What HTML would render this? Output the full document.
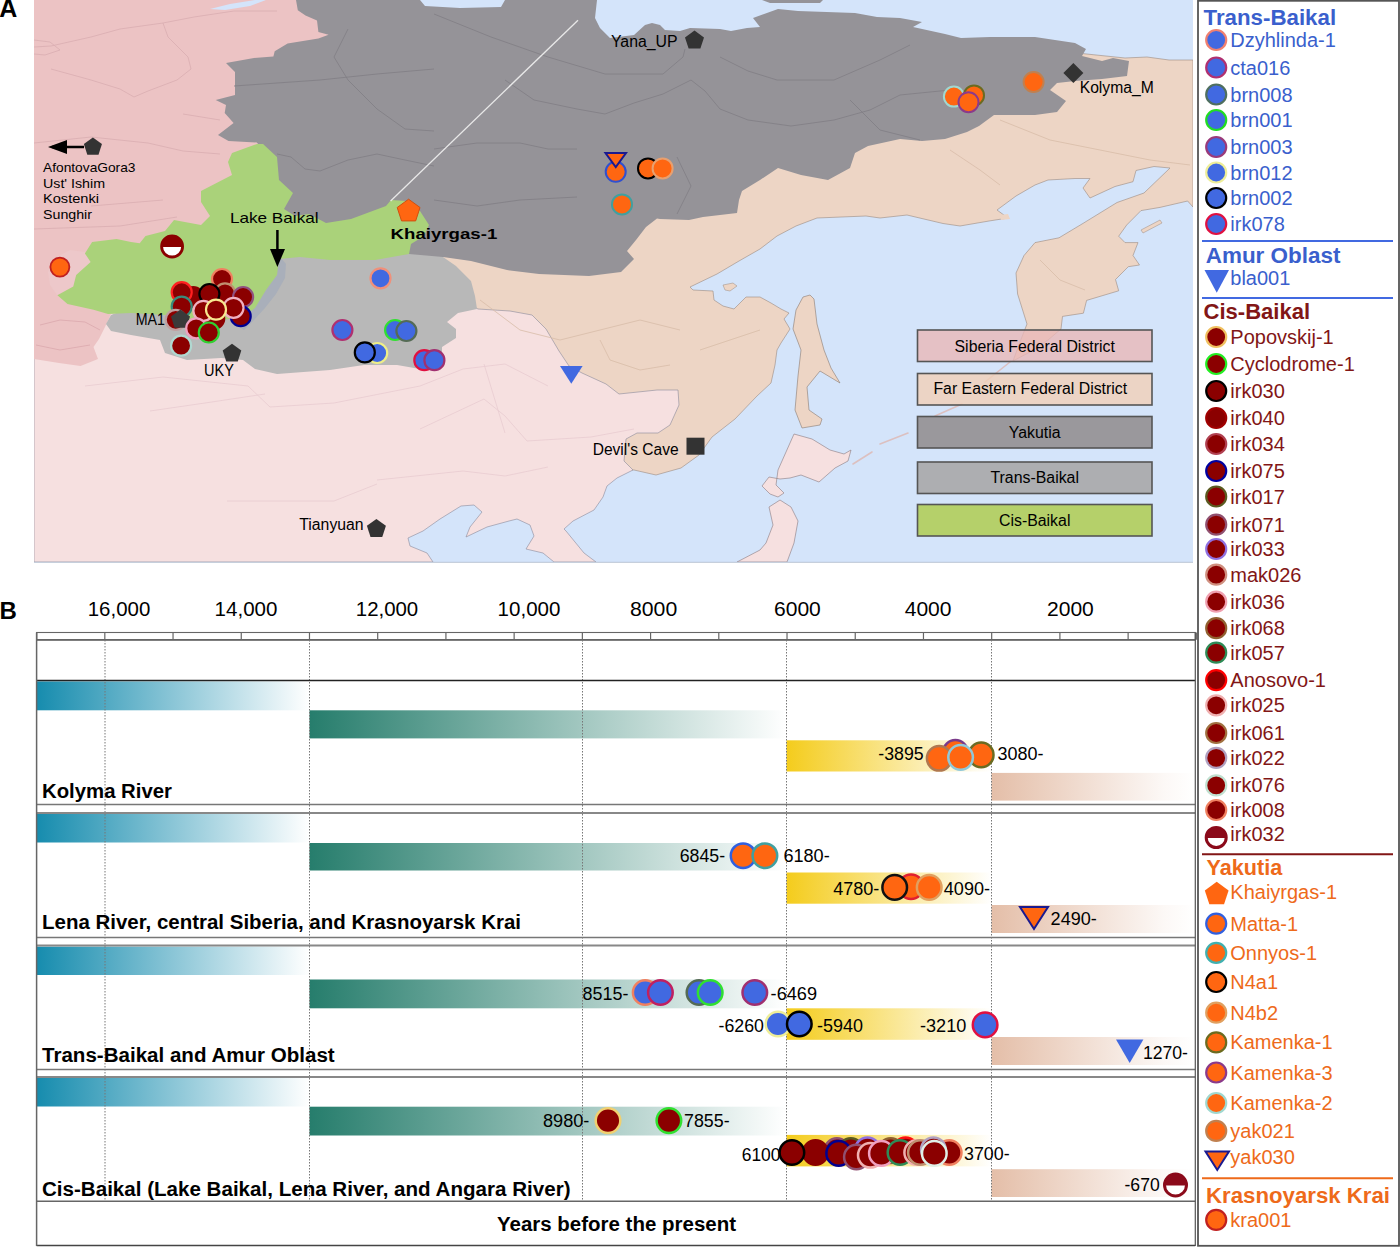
<!DOCTYPE html><html><head><meta charset="utf-8"><style>html,body{margin:0;padding:0;background:#fff;overflow:hidden}svg{display:block}text{font-family:"Liberation Sans",sans-serif}</style></head><body>
<svg width="1400" height="1247" viewBox="0 0 1400 1247">
<defs>
<linearGradient id="gB" x1="0" x2="1" y1="0" y2="0"><stop offset="0" stop-color="#168cae"/><stop offset="1" stop-color="#168cae" stop-opacity="0"/></linearGradient>
<linearGradient id="gG" x1="0" x2="1" y1="0" y2="0"><stop offset="0" stop-color="#267d6c"/><stop offset="1" stop-color="#267d6c" stop-opacity="0"/></linearGradient>
<linearGradient id="gY" x1="0" x2="1" y1="0" y2="0"><stop offset="0" stop-color="#f4cc1c"/><stop offset="1" stop-color="#f4cc1c" stop-opacity="0"/></linearGradient>
<linearGradient id="gP" x1="0" x2="1" y1="0" y2="0"><stop offset="0" stop-color="#e4bea8"/><stop offset="0.85" stop-color="#e4bea8" stop-opacity="0.1"/><stop offset="1" stop-color="#e4bea8" stop-opacity="0"/></linearGradient>
<clipPath id="mapclip"><rect x="34" y="0" width="1159" height="562"/></clipPath>
</defs>
<rect width="1400" height="1247" fill="#fff"/>
<g clip-path="url(#mapclip)">
<rect x="34" y="0" width="1159" height="562" fill="#d4e4fa"/>
<polygon points="430,240 700,150 1000,45 1125,58 1147,57 1169,60 1193,60 1193,207 1187.6,201 1160,207.4 1141,210.6 1126.7,225 1118.7,236.2 1125,242.6 1138,242.6 1133,255.5 1139.5,265 1128.3,266.7 1115.5,279.5 1118.7,290.8 1086.6,300.4 1083.4,313.2 1062.5,316.4 1061,329 1048,340 1030,352 1013,361 1020,342 1027,324 1017.6,294 1016,273 1024,255.5 1035,242.6 1059,237.8 1083,223.4 1117,202.5 1144,193 1170,168 1154,166.5 1136,170.5 1133,181.7 1115,186.5 1090,198 1083,188 1090,178.5 1075,178.5 1048,180 1035,185 1016,196 997,210 1008,218 989,221 960,226 943,223.5 907,215 880,218 866,216 817,218 796,226 777,236 760,249 739,261 717,274 690,287 693,290 713,291 714,300 723,306 734,309 746,297 760,297 771,303 781,309 789,313 784,319 790,329 781,343 777,350 775,365 771,383 757,396 735,419 712,437 699,455 681,468 656,475 634,470 600,470 440,400" fill="#edd5c5" stroke="#9a8a80" stroke-width="0.6"/>
<polygon points="1141,230 1160,220 1162,223 1143,233" fill="#edd5c5" stroke="#9a8a80" stroke-width="0.5"/>
<polygon points="1000,215 1008,214 1010,219 1001,220" fill="#edd5c5" />
<polygon points="723,285 733,283 737,286 730,291 725,290" fill="#edd5c5" stroke="#9a8a80" stroke-width="0.5"/>
<polygon points="803,297 810,295 814,299 817,324 824,350 831,368 840,383 820,371 807,387 809,410 822,419 820,425 802,428 795,410 798,376 801,350 793,329 796,310" fill="#edd5c5" stroke="#8a7a70" stroke-width="0.6"/>
<polygon points="34,290 442,290 478,309 510,311 532,315 546,329 559,351 569,366 582,373 606,384 619,394 657,390 678,390 679,405 670,425 658,433 637,433 626,439 624,461 633,470 617,478 607,486 603,497 594,510 573,521 564,529 566,531 584,553 596,562 554,562 543,553 526,549 534,536 530,525 517,519 509,521 487,527 466,537 470,527 482,512 474,505 461,506 440,519 423,531 408,538 410,546 427,553 433,562 34,562" fill="#f6e0e0" stroke="#8a8a9a" stroke-width="0.6"/>
<polygon points="794,434 812,439 830,450 844,454 851,450 848,461 835,468 819,482 801,475 790,478 780,479 769,477 762,486 770,494 778,497 784,493 776,485 778,470 786,452" fill="#f6e0e0" stroke="#8a7a80" stroke-width="0.6"/>
<polygon points="780,500 791,507 798,521 794,543 787,562 737,562 760,550 766,543 773,525 769,507" fill="#f6e0e0" stroke="#8a7a80" stroke-width="0.6"/>
<path d="M853,464 L872,452 M880,444 L908,433 M935,416 L962,404 M985,382 L1010,362" stroke="#dcc0c0" stroke-width="1.6" fill="none" stroke-linecap="round"/>
<polygon points="34,0 330,0 330,220 200,300 111,314 105,327 99,339 93.5,347 98,359 80.5,366 59,363 34,359" fill="#ecc3c4" />
<polygon points="85,252 92,262 76,275 73,287 57,295 50,285 48,272 55,258 70,250" fill="#edc8ca" />
<polygon points="210,9 230,4 255,0 266,0 250,6 225,10" fill="#d4e4fa" />
<polygon points="296,0 420,0 425,6 460,8 501,7 505,0 597,0 595,18 600,28 610,38 634,35 645,25 652,23 660,25 665,30 680,31 690,28 720,29 731,31 747,28 760,27 753,18 778,9 798,11 855,13 877,17 900,18 922,22 913,27 945,34 961,38 990,37 1035,37 1075,43 1086,49 1082,56 1102,61 1113,58 1129,61 1127,76 1102,79 1075,81 1057,83 1050,90 1066,101 1057,112 1035,115 994,115 979,126 967,132 945,139 922,141 900,139 868,146 855,153 850,168 828,180 801,175 778,168 760,180 742,191 739,200 737,213 703,217 689,220 660,219 657,218.6 646,227 636,240 627,251 634,259 621,272 589,276 539,274 507,270 471,261 443,257 420,262 330,262 280,250 263,144 259,145 256.8,142.5 228.5,141 218,135 233.6,123 224.7,113 226,105 215.7,100 235,95 235,72 226,63 254,58 273.4,56.5 274.7,51.3 287.6,43.6 318.4,38.5 328.6,34.7 318.4,32 317,20.5 305.5,15.4 297.8,10.3" fill="#959398" />
<polygon points="762,0 823,0 820,3 770,3" fill="#959398" />
<polygon points="106,324 111,315 150,300 260,250 330,255 409,254 443,257 456,266 471,281 475,296 477,309 458,313 447,322 456,329 456,338 442,347 442,356 436,365 420,369 397,365 364,365 330,370 277,374 255,369 243,360 221,358 187,360 165,353 160,340 131,335 111,331" fill="#b8b8b8" />
<polygon points="281,258 286,264 285,278 276,294 265,308 254,320 244,330 238,326 246,314 256,300 267,286 275,270" fill="#a9afba" />
<polygon points="257,144 263,144 277,157 279,180 293,193 284,209 295,216 309,214 326,223 351,219 386,206 391,200 407,201 420,211 429,225 424,236 411,244 409,254 375,260 330,260 300,257 279,259 277,275 266,290 255,308 243,317 221,320 187,320 165,315 131,313 108,314 93.5,309.7 67.5,304 57.4,295.3 73.3,286.6 76.2,275 90.6,262 84.9,253.4 92.1,241.9 116.6,239 131,241.9 139.7,243.3 145.5,236 165,231 174,220 201,225 210,216 201,202 201,191 232,175 228,162 232,153" fill="#aad27a" />
<polyline points="34,47 51,46 91,37 120,29 163,23 194,17 234,11 277,11" fill="none" stroke="#d9adb1" stroke-width="0.8" stroke-linejoin="round"/>
<polyline points="163,23 168,37 188,57 191,69 177,80 148,91 134,97 120,89 91,80 51,69" fill="none" stroke="#d9adb1" stroke-width="0.8" stroke-linejoin="round"/>
<polyline points="34,143 91,137 148,143 183,151 220,154" fill="none" stroke="#d9adb1" stroke-width="0.8" stroke-linejoin="round"/>
<polyline points="34,229 120,226 177,217" fill="none" stroke="#d9adb1" stroke-width="0.8" stroke-linejoin="round"/>
<polyline points="183,114 220,120" fill="none" stroke="#d9adb1" stroke-width="0.8" stroke-linejoin="round"/>
<polyline points="91,206 163,200" fill="none" stroke="#d9adb1" stroke-width="0.8" stroke-linejoin="round"/>
<polyline points="34,40 50,42 60,50 45,55 34,54" fill="none" stroke="#d9adb1" stroke-width="0.8" stroke-linejoin="round"/>
<polyline points="40,325 60,320 85,322 100,330" fill="none" stroke="#dba8ad" stroke-width="0.8" stroke-linejoin="round"/>
<polyline points="36,345 60,350 90,345" fill="none" stroke="#dba8ad" stroke-width="0.8" stroke-linejoin="round"/>
<polyline points="277,154 291,157 305,169 320,171 348,160 377,154 405,160 434,166" fill="none" stroke="#807e84" stroke-width="0.8" stroke-linejoin="round"/>
<polyline points="234,86 320,80 377,74 434,69" fill="none" stroke="#807e84" stroke-width="0.8" stroke-linejoin="round"/>
<polyline points="348,29 334,57 348,80 377,109 405,129 434,131" fill="none" stroke="#807e84" stroke-width="0.8" stroke-linejoin="round"/>
<polyline points="434,14 491,37 548,57 605,74 663,74 683,57 685,49" fill="none" stroke="#807e84" stroke-width="0.8" stroke-linejoin="round"/>
<polyline points="505,80 534,100 577,109 605,114 634,103 663,94 691,80 705,91 720,109 748,120 791,126 834,120 870,110 900,95 950,90" fill="none" stroke="#807e84" stroke-width="0.8" stroke-linejoin="round"/>
<polyline points="434,149 477,143 520,143 548,149 577,149" fill="none" stroke="#807e84" stroke-width="0.8" stroke-linejoin="round"/>
<polyline points="434,200 477,206 520,200 577,197" fill="none" stroke="#807e84" stroke-width="0.8" stroke-linejoin="round"/>
<polyline points="720,57 748,71 777,80 834,80 880,60 910,45" fill="none" stroke="#807e84" stroke-width="0.8" stroke-linejoin="round"/>
<polyline points="677,157 691,186 677,214" fill="none" stroke="#807e84" stroke-width="0.8" stroke-linejoin="round"/>
<polyline points="850,100 880,130 920,140" fill="none" stroke="#807e84" stroke-width="0.8" stroke-linejoin="round"/>
<polyline points="480,300 520,330 560,340 600,330 640,320 680,330" fill="none" stroke="#d8bca8" stroke-width="0.8" stroke-linejoin="round"/>
<polyline points="600,340 610,360 640,370 670,365" fill="none" stroke="#d8bca8" stroke-width="0.8" stroke-linejoin="round"/>
<polyline points="700,350 730,340 760,330" fill="none" stroke="#d8bca8" stroke-width="0.8" stroke-linejoin="round"/>
<polyline points="1000,120 1050,140 1100,150 1150,160 1190,165" fill="none" stroke="#d8bca8" stroke-width="0.8" stroke-linejoin="round"/>
<polyline points="950,150 980,170 1000,185" fill="none" stroke="#d8bca8" stroke-width="0.8" stroke-linejoin="round"/>
<polyline points="1085,290 1060,280 1040,260" fill="none" stroke="#d8bca8" stroke-width="0.8" stroke-linejoin="round"/>
<polyline points="85,386 163,377 248,386 270,407 334,403 420,386 463,369 505,364 548,386" fill="none" stroke="#e8ccd0" stroke-width="0.8" stroke-linejoin="round"/>
<polyline points="150,411 205,403 265,394" fill="none" stroke="#e8ccd0" stroke-width="0.8" stroke-linejoin="round"/>
<polyline points="420,429 484,399 505,416 527,441 591,437 634,429" fill="none" stroke="#e8ccd0" stroke-width="0.8" stroke-linejoin="round"/>
<polyline points="377,480 463,471 505,476 548,467" fill="none" stroke="#e8ccd0" stroke-width="0.8" stroke-linejoin="round"/>
<polyline points="227,501 334,501 377,484" fill="none" stroke="#e8ccd0" stroke-width="0.8" stroke-linejoin="round"/>
<polyline points="484,364 505,433" fill="none" stroke="#e8ccd0" stroke-width="0.8" stroke-linejoin="round"/>
<line x1="390.6" y1="201" x2="578" y2="20.2" stroke="#e8e8e8" stroke-width="1.3"/>
</g>
<line x1="34" y1="562.3" x2="1193" y2="562.3" stroke="#b8c4d4" stroke-width="1"/>
<rect x="917.5" y="330" width="234.5" height="31.5" fill="#e9b8b8" fill-opacity="0.8" stroke="#555" stroke-width="1.6"/>
<text x="954.55" y="351.8" font-size="16" fill="#000" textLength="160.3" lengthAdjust="spacingAndGlyphs" >Siberia Federal District</text>
<rect x="917.5" y="373.5" width="234.5" height="31.5" fill="#f1cfb8" fill-opacity="0.8" stroke="#555" stroke-width="1.6"/>
<text x="933.4" y="393.9" font-size="16" fill="#000" textLength="193.7" lengthAdjust="spacingAndGlyphs" >Far Eastern Federal District</text>
<rect x="917.5" y="416.5" width="234.5" height="31.5" fill="#8b8485" fill-opacity="0.8" stroke="#555" stroke-width="1.6"/>
<text x="1008.85" y="437.7" font-size="16" fill="#000" textLength="51.7" lengthAdjust="spacingAndGlyphs" >Yakutia</text>
<rect x="917.5" y="462" width="234.5" height="31.5" fill="#a3a09f" fill-opacity="0.8" stroke="#555" stroke-width="1.6"/>
<text x="990.4" y="483.4" font-size="16" fill="#000" textLength="88.6" lengthAdjust="spacingAndGlyphs" >Trans-Baikal</text>
<rect x="917.5" y="504.5" width="234.5" height="31.5" fill="#adcb46" fill-opacity="0.8" stroke="#555" stroke-width="1.6"/>
<text x="999" y="525.8" font-size="16" fill="#000" textLength="71.4" lengthAdjust="spacingAndGlyphs" >Cis-Baikal</text>
<polygon points="92.9,137.45 101.935,144.014 98.484,154.636 87.316,154.636 83.865,144.014" fill="#333" />
<line x1="52" y1="147" x2="84" y2="147" stroke="#000" stroke-width="2.5"/>
<polygon points="48,147 67,140 67,154" fill="#000" />
<polygon points="694.5,30.5 704.011,37.4098 700.378,48.5902 688.622,48.5902 684.989,37.4098" fill="#333" />
<polygon points="1073.4,63 1083.4,73 1073.4,83 1063.4,73" fill="#333" />
<rect x="686.5" y="437.7" width="18" height="17" fill="#333"/>
<polygon points="376.4,518.9 385.911,525.81 382.278,536.99 370.522,536.99 366.889,525.81" fill="#333" />
<text x="43" y="171.8" font-size="13" fill="#000" textLength="92.5" lengthAdjust="spacingAndGlyphs" >AfontovaGora3</text>
<text x="43" y="187.5" font-size="13" fill="#000" textLength="62" lengthAdjust="spacingAndGlyphs" >Ust' Ishim</text>
<text x="43" y="203.2" font-size="13" fill="#000" textLength="56" lengthAdjust="spacingAndGlyphs" >Kostenki</text>
<text x="43" y="219" font-size="13" fill="#000" textLength="49" lengthAdjust="spacingAndGlyphs" >Sunghir</text>
<text x="229.9" y="223.4" font-size="15" fill="#000" textLength="88.7" lengthAdjust="spacingAndGlyphs" >Lake Baikal</text>
<text x="390.6" y="239.2" font-size="15" fill="#000" font-weight="bold" textLength="106.7" lengthAdjust="spacingAndGlyphs" >Khaiyrgas-1</text>
<text x="611" y="47" font-size="16" fill="#000" textLength="66.5" lengthAdjust="spacingAndGlyphs" >Yana_UP</text>
<text x="1079.7" y="93.2" font-size="16" fill="#000" textLength="74" lengthAdjust="spacingAndGlyphs" >Kolyma_M</text>
<text x="592.7" y="454.6" font-size="16" fill="#000" textLength="86" lengthAdjust="spacingAndGlyphs" >Devil's Cave</text>
<text x="299.3" y="530" font-size="16" fill="#000" textLength="64.3" lengthAdjust="spacingAndGlyphs" >Tianyuan</text>
<line x1="277.4" y1="230" x2="277.4" y2="255" stroke="#000" stroke-width="2.5"/>
<polygon points="270,248.9 285,248.9 277.4,267" fill="#000" />
<circle cx="380.5" cy="278.3" r="10" fill="#4169e1" stroke="#f0907a" stroke-width="2.2" />
<circle cx="342.4" cy="330" r="10" fill="#4169e1" stroke="#b03070" stroke-width="2.2" />
<circle cx="395.1" cy="330" r="10" fill="#4169e1" stroke="#30e030" stroke-width="2.2" />
<circle cx="406.4" cy="331" r="10" fill="#4169e1" stroke="#556b55" stroke-width="2.2" />
<circle cx="377.2" cy="353" r="10" fill="#4169e1" stroke="#eeee88" stroke-width="2.2" />
<circle cx="364.8" cy="352.4" r="10" fill="#4169e1" stroke="#000" stroke-width="2.2" />
<circle cx="424.3" cy="360.2" r="10" fill="#4169e1" stroke="#e01040" stroke-width="2.2" />
<circle cx="434.4" cy="360.2" r="10" fill="#4169e1" stroke="#a03070" stroke-width="2.2" />
<polygon points="560,366 582.6,366 571.3,383.8" fill="#4169e1" />
<circle cx="615.7" cy="171.8" r="10" fill="#ff6611" stroke="#3050d0" stroke-width="2" />
<polygon points="605.5,153 626,153 615.75,167" fill="#ff6611" stroke="#1a1a90" stroke-width="2" stroke-linejoin="miter"/>
<circle cx="622" cy="204.4" r="10" fill="#ff6611" stroke="#40a0a0" stroke-width="2" />
<circle cx="648" cy="168.4" r="10" fill="#ff6611" stroke="#000" stroke-width="2" />
<circle cx="662.6" cy="168.4" r="10" fill="#ff6611" stroke="#e8a070" stroke-width="2" />
<circle cx="953.9" cy="96.6" r="10" fill="#ff6611" stroke="#a0d8d0" stroke-width="2" />
<circle cx="974" cy="95.4" r="10" fill="#ff6611" stroke="#6b6b20" stroke-width="2" />
<circle cx="968.5" cy="102.2" r="10" fill="#ff6611" stroke="#8b3a8b" stroke-width="2" />
<circle cx="1033.6" cy="82" r="10" fill="#ff6611" stroke="#c08050" stroke-width="2" />
<polygon points="408.6,199.2 420.013,207.492 415.653,220.908 401.547,220.908 397.187,207.492" fill="#ff6611" stroke="#d05010" stroke-width="1"/>
<circle cx="59.9" cy="267.1" r="9.5" fill="#ff6611" stroke="#c02020" stroke-width="1.8" />
<circle cx="172.1" cy="246.5" r="10.5" fill="#fff" stroke="#8b0000" stroke-width="2.8"/>
<path d="M161.6,247.0 A10.5,10.5 0 0 1 182.6,247.0 Z" fill="#8b0000"/>
<circle cx="222" cy="279" r="10" fill="#8b0000" stroke="#f08060" stroke-width="2.2" />
<circle cx="193.2" cy="297" r="10" fill="#8b0000" stroke="#8b0000" stroke-width="2.2" />
<circle cx="181.7" cy="292.2" r="10" fill="#8b0000" stroke="#ff2020" stroke-width="2.2" />
<circle cx="225" cy="293.4" r="10" fill="#8b0000" stroke="#c09070" stroke-width="2.2" />
<circle cx="209.4" cy="294" r="10" fill="#8b0000" stroke="#000" stroke-width="2.2" />
<circle cx="243.1" cy="297" r="10" fill="#8b0000" stroke="#905080" stroke-width="2.2" />
<circle cx="181.7" cy="306.6" r="10" fill="#8b0000" stroke="#3a8a7a" stroke-width="2.2" />
<circle cx="240.7" cy="316.2" r="10" fill="#8b0000" stroke="#000090" stroke-width="2.2" />
<circle cx="214.2" cy="318.6" r="10" fill="#8b0000" stroke="#8b0000" stroke-width="2.2" />
<circle cx="233.5" cy="307.8" r="10" fill="#8b0000" stroke="#f0b0c0" stroke-width="2.2" />
<circle cx="203.4" cy="310.8" r="10" fill="#8b0000" stroke="#f0b0c0" stroke-width="2.2" />
<circle cx="216" cy="309.6" r="10" fill="#8b0000" stroke="#f8e890" stroke-width="2.2" />
<circle cx="175.7" cy="319.8" r="10" fill="#8b0000" stroke="#c0a0a0" stroke-width="2.2" />
<polygon points="180.5,309.6 190.011,316.51 186.378,327.69 174.622,327.69 170.989,316.51" fill="#3a3a3a" />
<circle cx="196.2" cy="328.3" r="10" fill="#8b0000" stroke="#f0a0c0" stroke-width="2.2" />
<circle cx="208.8" cy="332.5" r="10" fill="#8b0000" stroke="#30d030" stroke-width="2.2" />
<circle cx="181.1" cy="345.7" r="10" fill="#8b0000" stroke="#b0d8d0" stroke-width="2.2" />
<polygon points="232,343.68 241.32,350.452 237.76,361.408 226.24,361.408 222.68,350.452" fill="#333" />
<text x="135.75" y="324.75" font-size="16" fill="#000" textLength="29.25" lengthAdjust="spacingAndGlyphs" >MA1</text>
<text x="204.1" y="375.6" font-size="17" fill="#000" textLength="29.8" lengthAdjust="spacingAndGlyphs" >UKY</text>
<text x="-0.8" y="17.2" font-size="25" fill="#000" font-weight="bold" >A</text>
<text x="-0.5" y="618.5" font-size="24" fill="#000" font-weight="bold" >B</text>
<text x="87.75" y="615.7" font-size="20" fill="#000" textLength="62.5" lengthAdjust="spacingAndGlyphs" >16,000</text>
<text x="214.6" y="615.7" font-size="20" fill="#000" textLength="62.8" lengthAdjust="spacingAndGlyphs" >14,000</text>
<text x="355.8" y="615.7" font-size="20" fill="#000" textLength="62.4" lengthAdjust="spacingAndGlyphs" >12,000</text>
<text x="497.6" y="615.7" font-size="20" fill="#000" textLength="62.8" lengthAdjust="spacingAndGlyphs" >10,000</text>
<text x="630" y="615.7" font-size="20" fill="#000" textLength="47.2" lengthAdjust="spacingAndGlyphs" >8000</text>
<text x="774" y="615.7" font-size="20" fill="#000" textLength="46.8" lengthAdjust="spacingAndGlyphs" >6000</text>
<text x="904.7" y="615.7" font-size="20" fill="#000" textLength="46.8" lengthAdjust="spacingAndGlyphs" >4000</text>
<text x="1047" y="615.7" font-size="20" fill="#000" textLength="46.8" lengthAdjust="spacingAndGlyphs" >2000</text>
<rect x="36.6" y="632.5" width="1158.7" height="7.3" fill="#fff" stroke="#666" stroke-width="1.1"/>
<line x1="36.6" y1="639.8" x2="1195.2" y2="639.8" stroke="#666" stroke-width="1.8"/>
<line x1="36.60" y1="632.5" x2="36.60" y2="639.8" stroke="#666" stroke-width="1.2"/>
<line x1="104.82" y1="632.5" x2="104.82" y2="639.8" stroke="#666" stroke-width="1.2"/>
<line x1="173.04" y1="632.5" x2="173.04" y2="639.8" stroke="#666" stroke-width="1.2"/>
<line x1="241.26" y1="632.5" x2="241.26" y2="639.8" stroke="#666" stroke-width="1.2"/>
<line x1="309.48" y1="632.5" x2="309.48" y2="639.8" stroke="#666" stroke-width="1.2"/>
<line x1="377.70" y1="632.5" x2="377.70" y2="639.8" stroke="#666" stroke-width="1.2"/>
<line x1="445.92" y1="632.5" x2="445.92" y2="639.8" stroke="#666" stroke-width="1.2"/>
<line x1="514.14" y1="632.5" x2="514.14" y2="639.8" stroke="#666" stroke-width="1.2"/>
<line x1="582.36" y1="632.5" x2="582.36" y2="639.8" stroke="#666" stroke-width="1.2"/>
<line x1="650.58" y1="632.5" x2="650.58" y2="639.8" stroke="#666" stroke-width="1.2"/>
<line x1="718.80" y1="632.5" x2="718.80" y2="639.8" stroke="#666" stroke-width="1.2"/>
<line x1="787.02" y1="632.5" x2="787.02" y2="639.8" stroke="#666" stroke-width="1.2"/>
<line x1="855.24" y1="632.5" x2="855.24" y2="639.8" stroke="#666" stroke-width="1.2"/>
<line x1="923.46" y1="632.5" x2="923.46" y2="639.8" stroke="#666" stroke-width="1.2"/>
<line x1="991.68" y1="632.5" x2="991.68" y2="639.8" stroke="#666" stroke-width="1.2"/>
<line x1="1059.90" y1="632.5" x2="1059.90" y2="639.8" stroke="#666" stroke-width="1.2"/>
<line x1="1128.12" y1="632.5" x2="1128.12" y2="639.8" stroke="#666" stroke-width="1.2"/>
<line x1="1196.34" y1="632.5" x2="1196.34" y2="639.8" stroke="#666" stroke-width="1.2"/>
<rect x="36.6" y="681.4" width="272.9" height="28.90" fill="url(#gB)"/>
<rect x="309.5" y="710.3" width="477.0" height="28.10" fill="url(#gG)"/>
<rect x="786.5" y="740.3" width="205.0" height="31.20" fill="url(#gY)"/>
<rect x="991.5" y="772.9" width="203.70000000000005" height="27.70" fill="url(#gP)"/>
<rect x="36.6" y="813.6" width="272.9" height="28.90" fill="url(#gB)"/>
<rect x="309.5" y="843" width="477.0" height="27.50" fill="url(#gG)"/>
<rect x="786.5" y="872.5" width="205.0" height="31.20" fill="url(#gY)"/>
<rect x="991.5" y="905" width="203.70000000000005" height="28.00" fill="url(#gP)"/>
<rect x="36.6" y="946.6" width="272.9" height="28.40" fill="url(#gB)"/>
<rect x="309.5" y="979.5" width="477.0" height="28.80" fill="url(#gG)"/>
<rect x="786.5" y="1008.3" width="205.0" height="31.50" fill="url(#gY)"/>
<rect x="991.5" y="1037" width="203.70000000000005" height="28.00" fill="url(#gP)"/>
<rect x="36.6" y="1078" width="272.9" height="28.50" fill="url(#gB)"/>
<rect x="309.5" y="1106.7" width="477.0" height="28.80" fill="url(#gG)"/>
<rect x="786.5" y="1134.9" width="205.0" height="31.50" fill="url(#gY)"/>
<rect x="991.5" y="1169.2" width="203.70000000000005" height="27.80" fill="url(#gP)"/>
<line x1="105" y1="640" x2="105" y2="1201" stroke="#777" stroke-width="1" stroke-dasharray="1.5,1.5"/>
<line x1="309.5" y1="640" x2="309.5" y2="1201" stroke="#777" stroke-width="1" stroke-dasharray="1.5,1.5"/>
<line x1="582.5" y1="640" x2="582.5" y2="1201" stroke="#777" stroke-width="1" stroke-dasharray="1.5,1.5"/>
<line x1="786.5" y1="640" x2="786.5" y2="1201" stroke="#777" stroke-width="1" stroke-dasharray="1.5,1.5"/>
<line x1="991.5" y1="640" x2="991.5" y2="1201" stroke="#777" stroke-width="1" stroke-dasharray="1.5,1.5"/>
<line x1="36.6" y1="680.5" x2="1195.2" y2="680.5" stroke="#222" stroke-width="1.6"/>
<line x1="36.6" y1="804.6" x2="1195.2" y2="804.6" stroke="#777" stroke-width="1.5"/>
<line x1="36.6" y1="937.6" x2="1195.2" y2="937.6" stroke="#777" stroke-width="1.5"/>
<line x1="36.6" y1="1069.5" x2="1195.2" y2="1069.5" stroke="#777" stroke-width="1.5"/>
<line x1="36.6" y1="813" x2="1195.2" y2="813" stroke="#888" stroke-width="2"/>
<line x1="36.6" y1="945.6" x2="1195.2" y2="945.6" stroke="#888" stroke-width="2"/>
<line x1="36.6" y1="1077" x2="1195.2" y2="1077" stroke="#888" stroke-width="2"/>
<line x1="36.6" y1="1201.2" x2="1195.2" y2="1201.2" stroke="#666" stroke-width="1.5"/>
<line x1="36.6" y1="1245.5" x2="1195.2" y2="1245.5" stroke="#444" stroke-width="1.5"/>
<line x1="36.6" y1="632.5" x2="36.6" y2="1246" stroke="#666" stroke-width="1.5"/>
<line x1="1195.3" y1="632.5" x2="1195.3" y2="1246" stroke="#555" stroke-width="1.2"/>
<text x="42" y="798" font-size="20" fill="#000" font-weight="bold" textLength="130" lengthAdjust="spacingAndGlyphs" >Kolyma River</text>
<text x="42" y="928.6" font-size="20" fill="#000" font-weight="bold" textLength="479" lengthAdjust="spacingAndGlyphs" >Lena River, central Siberia, and Krasnoyarsk Krai</text>
<text x="42" y="1062.3" font-size="20" fill="#000" font-weight="bold" textLength="292.7" lengthAdjust="spacingAndGlyphs" >Trans-Baikal and Amur Oblast</text>
<text x="42" y="1196.3" font-size="20" fill="#000" font-weight="bold" textLength="528.5" lengthAdjust="spacingAndGlyphs" >Cis-Baikal (Lake Baikal, Lena River, and Angara River)</text>
<text x="497" y="1230.6" font-size="20" fill="#000" font-weight="bold" textLength="239" lengthAdjust="spacingAndGlyphs" >Years before the present</text>
<text x="878.3" y="760" font-size="18" fill="#000" textLength="45.4" lengthAdjust="spacingAndGlyphs" >-3895</text>
<text x="997.5" y="760" font-size="18" fill="#000" textLength="46" lengthAdjust="spacingAndGlyphs" >3080-</text>
<text x="679.7" y="861.7" font-size="18" fill="#000" textLength="45.4" lengthAdjust="spacingAndGlyphs" >6845-</text>
<text x="783.4" y="861.7" font-size="18" fill="#000" textLength="46.3" lengthAdjust="spacingAndGlyphs" >6180-</text>
<text x="833.2" y="894.8" font-size="18" fill="#000" textLength="46.2" lengthAdjust="spacingAndGlyphs" >4780-</text>
<text x="943.8" y="894.8" font-size="18" fill="#000" textLength="46.2" lengthAdjust="spacingAndGlyphs" >4090-</text>
<text x="1050.6" y="925" font-size="18" fill="#000" textLength="46.2" lengthAdjust="spacingAndGlyphs" >2490-</text>
<text x="582.6" y="1000" font-size="18" fill="#000" textLength="45.9" lengthAdjust="spacingAndGlyphs" >8515-</text>
<text x="770.6" y="1000" font-size="18" fill="#000" textLength="46.4" lengthAdjust="spacingAndGlyphs" >-6469</text>
<text x="718.6" y="1031.5" font-size="18" fill="#000" textLength="45.4" lengthAdjust="spacingAndGlyphs" >-6260</text>
<text x="817" y="1031.5" font-size="18" fill="#000" textLength="45.9" lengthAdjust="spacingAndGlyphs" >-5940</text>
<text x="920" y="1031.5" font-size="18" fill="#000" textLength="46.3" lengthAdjust="spacingAndGlyphs" >-3210</text>
<text x="1142.9" y="1059" font-size="18" fill="#000" textLength="45.1" lengthAdjust="spacingAndGlyphs" >1270-</text>
<text x="543" y="1127" font-size="18" fill="#000" textLength="46.4" lengthAdjust="spacingAndGlyphs" >8980-</text>
<text x="684" y="1127" font-size="18" fill="#000" textLength="45.6" lengthAdjust="spacingAndGlyphs" >7855-</text>
<text x="741.7" y="1160.6" font-size="18" fill="#000" textLength="44.6" lengthAdjust="spacingAndGlyphs" >6100-</text>
<text x="964" y="1160" font-size="18" fill="#000" textLength="45.6" lengthAdjust="spacingAndGlyphs" >3700-</text>
<text x="1124.5" y="1191" font-size="18" fill="#000" textLength="35.2" lengthAdjust="spacingAndGlyphs" >-670</text>
<circle cx="955.4" cy="752.3" r="12.3" fill="#ff6611" stroke="#7a3a8a" stroke-width="2.5" />
<circle cx="981.2" cy="754.9" r="12.3" fill="#ff6611" stroke="#6b6b20" stroke-width="2.5" />
<circle cx="939.2" cy="758.3" r="12.3" fill="#ff6611" stroke="#b07850" stroke-width="2.5" />
<circle cx="960.6" cy="757.4" r="12.3" fill="#ff6611" stroke="#90c8d8" stroke-width="2.5" />
<circle cx="743.1" cy="855.7" r="12.3" fill="#ff6611" stroke="#3060e0" stroke-width="2.5" />
<circle cx="764.9" cy="855.7" r="12.3" fill="#ff6611" stroke="#40a0a0" stroke-width="2.5" />
<circle cx="911" cy="886.7" r="12.3" fill="#ff6611" stroke="#e02030" stroke-width="2.5" />
<circle cx="894.7" cy="887.4" r="12.3" fill="#ff6611" stroke="#111" stroke-width="2.5" />
<circle cx="929.2" cy="887.4" r="12.3" fill="#ff6611" stroke="#e0a060" stroke-width="2.5" />
<polygon points="1020,907 1048,907 1034,929" fill="#ff6611" stroke="#1a1a90" stroke-width="2" stroke-linejoin="miter"/>
<circle cx="645.2" cy="992.5" r="12.3" fill="#4169e1" stroke="#f08060" stroke-width="2.5" />
<circle cx="660.4" cy="992.5" r="12.3" fill="#4169e1" stroke="#c02060" stroke-width="2.5" />
<circle cx="699" cy="992.5" r="12.3" fill="#4169e1" stroke="#556b55" stroke-width="2.5" />
<circle cx="710.2" cy="992.5" r="12.3" fill="#4169e1" stroke="#30e030" stroke-width="2.5" />
<circle cx="754.8" cy="992.5" r="12.3" fill="#4169e1" stroke="#a03070" stroke-width="2.5" />
<circle cx="778" cy="1024" r="12.3" fill="#4169e1" stroke="#eeee99" stroke-width="2.5" />
<circle cx="799.3" cy="1024" r="12.3" fill="#4169e1" stroke="#000" stroke-width="2.5" />
<circle cx="985.1" cy="1024.9" r="12.3" fill="#4169e1" stroke="#e01040" stroke-width="2.5" />
<polygon points="1116,1039.5 1143.4,1039.5 1129.7,1063" fill="#4169e1" />
<circle cx="608" cy="1120.6" r="12.3" fill="#8b0000" stroke="#f0d070" stroke-width="2.5" />
<circle cx="668.9" cy="1120.6" r="12.3" fill="#8b0000" stroke="#30e030" stroke-width="2.5" />
<circle cx="836.9" cy="1150.6" r="12.3" fill="#8b0000" stroke="#905070" stroke-width="2.5" />
<circle cx="850.8" cy="1150.6" r="12.3" fill="#8b0000" stroke="#5a5a20" stroke-width="2.5" />
<circle cx="815.5" cy="1152.5" r="12.3" fill="#8b0000" stroke="#8b0000" stroke-width="2.5" />
<circle cx="838.7" cy="1153.4" r="12.3" fill="#8b0000" stroke="#000090" stroke-width="2.5" />
<circle cx="867.5" cy="1149.7" r="12.3" fill="#8b0000" stroke="#9070e0" stroke-width="2.5" />
<circle cx="856.4" cy="1157" r="12.3" fill="#8b0000" stroke="#905070" stroke-width="2.5" />
<circle cx="870.3" cy="1155.3" r="12.3" fill="#8b0000" stroke="#f0b0b0" stroke-width="2.5" />
<circle cx="890.7" cy="1150.6" r="12.3" fill="#8b0000" stroke="#906030" stroke-width="2.5" />
<circle cx="881.4" cy="1153.4" r="12.3" fill="#8b0000" stroke="#f0a0c0" stroke-width="2.5" />
<circle cx="905.6" cy="1149.7" r="12.3" fill="#8b0000" stroke="#ff1010" stroke-width="2.5" />
<circle cx="900" cy="1152.5" r="12.3" fill="#8b0000" stroke="#2e8b57" stroke-width="2.5" />
<circle cx="916.7" cy="1152.5" r="12.3" fill="#8b0000" stroke="#f0b0b0" stroke-width="2.5" />
<circle cx="920.4" cy="1152.5" r="12.3" fill="#8b0000" stroke="#c09070" stroke-width="2.5" />
<circle cx="949.2" cy="1152.5" r="12.3" fill="#8b0000" stroke="#f08060" stroke-width="2.5" />
<circle cx="933.4" cy="1149.7" r="12.3" fill="#8b0000" stroke="#b0a0c0" stroke-width="2.5" />
<circle cx="934.3" cy="1153.4" r="12.3" fill="#8b0000" stroke="#e0f0e8" stroke-width="2.5" />
<circle cx="791.9" cy="1152.5" r="12.3" fill="#8b0000" stroke="#000" stroke-width="2.5" />
<circle cx="1175.5" cy="1185" r="11" fill="#fff" stroke="#8b0a1a" stroke-width="3"/>
<path d="M1164.5,1185.5 A11,11 0 0 1 1186.5,1185.5 Z" fill="#8b0a1a"/>
<rect x="1198" y="0.8" width="201" height="1245" fill="#fff" stroke="#555" stroke-width="1.8"/>
<text x="1203.5" y="25.2" font-size="22" fill="#3a5fcd" font-weight="bold" textLength="132.6" lengthAdjust="spacingAndGlyphs" >Trans-Baikal</text>
<circle cx="1216.2" cy="40" r="10" fill="#4169e1" stroke="#f08070" stroke-width="2.2" />
<text x="1230.3" y="47" font-size="20" fill="#3a5fcd" >Dzyhlinda-1</text>
<circle cx="1216.2" cy="67.5" r="10" fill="#4169e1" stroke="#b03070" stroke-width="2.2" />
<text x="1230.3" y="74.5" font-size="20" fill="#3a5fcd" >cta016</text>
<circle cx="1216.2" cy="94.5" r="10" fill="#4169e1" stroke="#4f6f5f" stroke-width="2.2" />
<text x="1230.3" y="101.5" font-size="20" fill="#3a5fcd" >brn008</text>
<circle cx="1216.2" cy="120" r="10" fill="#4169e1" stroke="#22dd22" stroke-width="2.2" />
<text x="1230.3" y="127" font-size="20" fill="#3a5fcd" >brn001</text>
<circle cx="1216.2" cy="147" r="10" fill="#4169e1" stroke="#9a3a7a" stroke-width="2.2" />
<text x="1230.3" y="154" font-size="20" fill="#3a5fcd" >brn003</text>
<circle cx="1216.2" cy="172.5" r="10" fill="#4169e1" stroke="#eeee99" stroke-width="2.2" />
<text x="1230.3" y="179.5" font-size="20" fill="#3a5fcd" >brn012</text>
<circle cx="1216.2" cy="198" r="10" fill="#4169e1" stroke="#000" stroke-width="2.2" />
<text x="1230.3" y="205" font-size="20" fill="#3a5fcd" >brn002</text>
<circle cx="1216.2" cy="224" r="10" fill="#4169e1" stroke="#e01040" stroke-width="2.2" />
<text x="1230.3" y="231" font-size="20" fill="#3a5fcd" >irk078</text>
<line x1="1202" y1="241" x2="1393" y2="241" stroke="#4169e1" stroke-width="2"/>
<text x="1205.7" y="263.2" font-size="22" fill="#3a5fcd" font-weight="bold" textLength="134.8" lengthAdjust="spacingAndGlyphs">Amur Oblast</text>
<polygon points="1204.5,270 1229,270 1216.75,292.7" fill="#4169e1" />
<text x="1230.3" y="285" font-size="20" fill="#3a5fcd" >bla001</text>
<line x1="1202" y1="298" x2="1393" y2="298" stroke="#4169e1" stroke-width="2"/>
<text x="1203.5" y="319.3" font-size="22" fill="#821616" font-weight="bold" textLength="106.6" lengthAdjust="spacingAndGlyphs" >Cis-Baikal</text>
<circle cx="1216.2" cy="337" r="10" fill="#8b0000" stroke="#f0c060" stroke-width="2.2" />
<text x="1230.3" y="344" font-size="20" fill="#821616" >Popovskij-1</text>
<circle cx="1216.2" cy="364" r="10" fill="#8b0000" stroke="#22ee22" stroke-width="2.2" />
<text x="1230.3" y="371" font-size="20" fill="#821616" >Cyclodrome-1</text>
<circle cx="1216.2" cy="391" r="10" fill="#8b0000" stroke="#000" stroke-width="2.2" />
<text x="1230.3" y="398" font-size="20" fill="#821616" >irk030</text>
<circle cx="1216.2" cy="418" r="10" fill="#8b0000" stroke="#a00000" stroke-width="2.2" />
<text x="1230.3" y="425" font-size="20" fill="#821616" >irk040</text>
<circle cx="1216.2" cy="444" r="10" fill="#8b0000" stroke="#b04050" stroke-width="2.2" />
<text x="1230.3" y="451" font-size="20" fill="#821616" >irk034</text>
<circle cx="1216.2" cy="471" r="10" fill="#8b0000" stroke="#0000a0" stroke-width="2.2" />
<text x="1230.3" y="478" font-size="20" fill="#821616" >irk075</text>
<circle cx="1216.2" cy="496.5" r="10" fill="#8b0000" stroke="#5a5a20" stroke-width="2.2" />
<text x="1230.3" y="503.5" font-size="20" fill="#821616" >irk017</text>
<circle cx="1216.2" cy="524.6" r="10" fill="#8b0000" stroke="#905070" stroke-width="2.2" />
<text x="1230.3" y="531.6" font-size="20" fill="#821616" >irk071</text>
<circle cx="1216.2" cy="549" r="10" fill="#8b0000" stroke="#9070e0" stroke-width="2.2" />
<text x="1230.3" y="556" font-size="20" fill="#821616" >irk033</text>
<circle cx="1216.2" cy="574.7" r="10" fill="#8b0000" stroke="#d09080" stroke-width="2.2" />
<text x="1230.3" y="581.7" font-size="20" fill="#821616" >mak026</text>
<circle cx="1216.2" cy="601.7" r="10" fill="#8b0000" stroke="#f0a0b0" stroke-width="2.2" />
<text x="1230.3" y="608.7" font-size="20" fill="#821616" >irk036</text>
<circle cx="1216.2" cy="628.2" r="10" fill="#8b0000" stroke="#906030" stroke-width="2.2" />
<text x="1230.3" y="635.2" font-size="20" fill="#821616" >irk068</text>
<circle cx="1216.2" cy="652.6" r="10" fill="#8b0000" stroke="#2e8b57" stroke-width="2.2" />
<text x="1230.3" y="659.6" font-size="20" fill="#821616" >irk057</text>
<circle cx="1216.2" cy="680.1" r="10" fill="#8b0000" stroke="#ff0000" stroke-width="2.2" />
<text x="1230.3" y="687.1" font-size="20" fill="#821616" >Anosovo-1</text>
<circle cx="1216.2" cy="705.3" r="10" fill="#8b0000" stroke="#f0b0b0" stroke-width="2.2" />
<text x="1230.3" y="712.3" font-size="20" fill="#821616" >irk025</text>
<circle cx="1216.2" cy="733" r="10" fill="#8b0000" stroke="#a07040" stroke-width="2.2" />
<text x="1230.3" y="740" font-size="20" fill="#821616" >irk061</text>
<circle cx="1216.2" cy="757.9" r="10" fill="#8b0000" stroke="#b0a0c0" stroke-width="2.2" />
<text x="1230.3" y="764.9" font-size="20" fill="#821616" >irk022</text>
<circle cx="1216.2" cy="785.4" r="10" fill="#8b0000" stroke="#c0e0d0" stroke-width="2.2" />
<text x="1230.3" y="792.4" font-size="20" fill="#821616" >irk076</text>
<circle cx="1216.2" cy="810" r="10" fill="#8b0000" stroke="#f08060" stroke-width="2.2" />
<text x="1230.3" y="817" font-size="20" fill="#821616" >irk008</text>
<circle cx="1216.2" cy="837.5" r="10" fill="#fff" stroke="#8b0a1a" stroke-width="3"/>
<path d="M1206.2,838.0 A10,10 0 0 1 1226.2,838.0 Z" fill="#8b0a1a"/>
<text x="1230.3" y="841.3" font-size="20" fill="#821616" >irk032</text>
<line x1="1202" y1="854.2" x2="1393" y2="854.2" stroke="#821616" stroke-width="2"/>
<text x="1206.5" y="874.7" font-size="22" fill="#ee6a1a" font-weight="bold" textLength="75.7" lengthAdjust="spacingAndGlyphs">Yakutia</text>
<polygon points="1216.7,881.75 1228.59,890.387 1224.05,904.363 1209.35,904.363 1204.81,890.387" fill="#ff6611" />
<text x="1230.3" y="899" font-size="20" fill="#ee6a1a" >Khaiyrgas-1</text>
<circle cx="1216.2" cy="923.6" r="10" fill="#ff6611" stroke="#3060e0" stroke-width="2.2" />
<text x="1230.3" y="930.6" font-size="20" fill="#ee6a1a" >Matta-1</text>
<circle cx="1216.2" cy="952.8" r="10" fill="#ff6611" stroke="#40b0b0" stroke-width="2.2" />
<text x="1230.3" y="959.8" font-size="20" fill="#ee6a1a" >Onnyos-1</text>
<circle cx="1216.2" cy="982" r="10" fill="#ff6611" stroke="#000" stroke-width="2.2" />
<text x="1230.3" y="989" font-size="20" fill="#ee6a1a" >N4a1</text>
<circle cx="1216.2" cy="1012.7" r="10" fill="#ff6611" stroke="#e0a060" stroke-width="2.2" />
<text x="1230.3" y="1019.7" font-size="20" fill="#ee6a1a" >N4b2</text>
<circle cx="1216.2" cy="1042.4" r="10" fill="#ff6611" stroke="#6b6b20" stroke-width="2.2" />
<text x="1230.3" y="1049.4" font-size="20" fill="#ee6a1a" >Kamenka-1</text>
<circle cx="1216.2" cy="1072.5" r="10" fill="#ff6611" stroke="#8b3a8b" stroke-width="2.2" />
<text x="1230.3" y="1079.5" font-size="20" fill="#ee6a1a" >Kamenka-3</text>
<circle cx="1216.2" cy="1103" r="10" fill="#ff6611" stroke="#a0d8d0" stroke-width="2.2" />
<text x="1230.3" y="1110" font-size="20" fill="#ee6a1a" >Kamenka-2</text>
<circle cx="1216.2" cy="1130.9" r="10" fill="#ff6611" stroke="#c08050" stroke-width="2.2" />
<text x="1230.3" y="1137.9" font-size="20" fill="#ee6a1a" >yak021</text>
<polygon points="1205.5,1151.5 1229,1151.5 1217.25,1170" fill="#ff6611" stroke="#1a1a90" stroke-width="2" stroke-linejoin="miter"/>
<text x="1230.3" y="1163.5" font-size="20" fill="#ee6a1a" >yak030</text>
<line x1="1202" y1="1178.2" x2="1393" y2="1178.2" stroke="#ee6a1a" stroke-width="2"/>
<text x="1206" y="1202.5" font-size="22" fill="#ee6a1a" font-weight="bold" textLength="184" lengthAdjust="spacingAndGlyphs">Krasnoyarsk Krai</text>
<circle cx="1216.2" cy="1219.9" r="10" fill="#ff6611" stroke="#c02020" stroke-width="2.2" />
<text x="1230.3" y="1226.9" font-size="20" fill="#ee6a1a" >kra001</text>
</svg></body></html>
